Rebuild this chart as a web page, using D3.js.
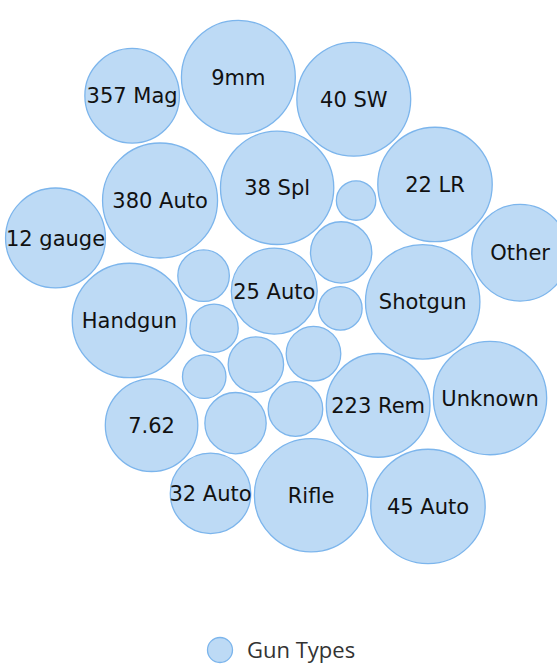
<!DOCTYPE html>
<html><head><meta charset="utf-8">
<script src="https://cdn.jsdelivr.net/npm/d3@7"></script>
<style>
html,body{margin:0;padding:0;background:#fff;}
svg{display:block;}
</style></head>
<body>
<svg id="chart" width="557" height="667"></svg>
<script>
// ---- data ----
const seriesName = "Gun Types";
const names = [null,null,null,null,null,null,null,null,null,null,
  "38 Spl","25 Auto","380 Auto","Shotgun","Rifle","9mm","223 Rem","Handgun","22 LR","32 Auto",
  "357 Mag","Unknown","7.62","40 SW","45 Auto","12 gauge","Other"];
const values = [12,29,23,23,29,14.6,14.6,20.5,23.7,18,
  99,57,102,101,99,100,83,101,101,50,
  69,99,66,100,101,77,72];
const labelThreshold = 40;

const svg = d3.select("#chart");
const cx = 287, cy = 292;

const r = d3.scaleSqrt().domain([0, d3.max(values)]).range([0, 57.5]);
const rMax = r(d3.max(values));

const nodes = names.map((n,i)=>({name:n, value:values[i], r:r(values[i])}));

const pull = d => 0.03*Math.pow(rMax/d.r, 2);
const sim = d3.forceSimulation(nodes)
  .alphaDecay(0.01)
  .force("x", d3.forceX(0).strength(pull))
  .force("y", d3.forceY(0).strength(pull))
  .force("collide", d3.forceCollide(d=>d.r+1.8).strength(1).iterations(6))
  .stop();
for (let i=0;i<1000;i++) sim.tick();

// centre the packed cluster
const x0 = d3.min(nodes,d=>d.x-d.r), x1 = d3.max(nodes,d=>d.x+d.r);
const y0 = d3.min(nodes,d=>d.y-d.r), y1 = d3.max(nodes,d=>d.y+d.r);
const dx = cx - (x0+x1)/2, dy = cy - (y0+y1)/2;
nodes.forEach(d=>{d.x+=dx; d.y+=dy;});

const fill = "rgba(124,181,236,0.5)", stroke = "#7cb5ec";

const node = svg.append("g").selectAll("g.bubble").data(nodes).join("g").attr("class","bubble")
  .attr("transform", d=>`translate(${d.x},${d.y})`);
node.append("circle").attr("r", d=>d.r).attr("fill", fill).attr("stroke", stroke).attr("stroke-width",1.3);
node.filter(d=>d.name && d.value>=labelThreshold).append("text")
  .attr("text-anchor","middle").attr("dy","0.36em")
  .style("font-family","'DejaVu Sans', Verdana, sans-serif").style("font-size","21px")
  .attr("fill","#111")
  .text(d=>d.name);

// legend
const lg = svg.append("g").attr("transform","translate(220,650)");
lg.append("circle").attr("r",12.5).attr("fill",fill).attr("stroke",stroke).attr("stroke-width",1.3);
lg.append("text").attr("x",27).attr("dy","0.36em")
  .style("font-family","'Open Sans', sans-serif").style("font-size","22px").attr("fill","#333")
  .text(seriesName);
</script>
</body></html>
